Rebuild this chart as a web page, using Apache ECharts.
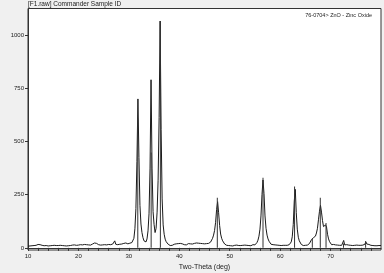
<!DOCTYPE html>
<html><head><meta charset="utf-8">
<script src="https://cdn.jsdelivr.net/npm/echarts@6/dist/echarts.min.js"></script>
<style>html,body{margin:0;padding:0;background:#f0f0f0;}#c{width:384px;height:273px;}</style>
</head><body><div id="c"></div>
<script>
// Scan: 2-theta from 10.0 to 80.0 in steps of 0.2 deg
const scanStart = 10.0;
const scanStep = 0.2;
const counts = [
 8,11,9,12,10, 13,11,15,12,14, 16,13,15,11,12, 14,10,13,11,12, 9,12,10,13,11,
 10,12,9,11,13, 11,9,12,10,11, 13,10,12,9,11, 10,12,11,9,13, 11,14,10,12,11,
 13,11,15,17,14, 20,16,19,15,18, 14,17,13,16,18, 20,23,18,21,16, 15,17,13,16,14,
 12,15,11,14,13, 16,13,15,12,18, 21,33,17,24,15, 13,17,11,18,14, 21,14,23,15,19,
 17,22,19,25,30, 45,90,185,405,700, 425,200,112,72,48, 33,24,28,42,80, 160,375,790,375,170,
 110,72,92,168,318, 612,1066,555,230,108, 64,41,29,22,17, 13,11,14,12,15, 17,14,19,16,20,
 18,21,16,19,17, 15,18,14,17,20, 16,19,15,18,17, 21,17,23,19,22, 18,21,17,20,23,
 19,22,20,24,21, 21,27,34,45,60, 82,120,180,217,165, 105,65,45,33,25, 18,14,12,15,11,
 13,10,12,9,11, 12,10,13,9,11, 14,11,16,12,15, 13,17,12,14,11, 13,10,12,15,13,
 14,18,25,36,55, 88,150,250,319,255, 150,92,60,42,31, 23,17,13,15,12, 14,11,13,10,12,
 13,11,14,12,10, 12,10,12,14,15, 19,28,52,110,220, 275,165,88,50,33, 24,16,13,11,14,
 12,15,13,17,20, 28,38,45,48,42, 55,70,92,132,172, 200,168,128,100,94, 108,98,64,42,29,
 20,15,13,16,12, 14,11,13,10,12, 15,12,18,35,14, 12,15,11,13,10, 12,14,11,13,12,
 10,13,11,12,14, 12,15,13,20,17, 28,18,14,16,13, 12,15,11,13,10, 12,10,13,11,12,
 11
];
// Reference pattern 76-0704 ZnO sticks
const stickPos = [31.77, 34.42, 36.25, 47.54, 56.60, 62.86, 66.38, 67.96, 69.10, 72.56, 76.95];
const stickHeight = [608, 448, 1066, 235, 330, 288, 43, 235, 117, 21, 32];
const yTicks = [0, 250, 500, 750, 1000];

const scanData = counts.map((c, i) => [+(scanStart + i * scanStep).toFixed(1), c]);
const stickData = stickPos.map((p, i) => [p, stickHeight[i]]);

const font = 'Liberation Sans, Arial, sans-serif';
const chart = echarts.init(document.getElementById('c'), null, {renderer: 'canvas'});
chart.setOption({
  animation: false,
  backgroundColor: '#f0f0f0',
  grid: {left: 28, right: 3, top: 8.5, bottom: 23, containLabel: false, outerBoundsMode: 'none',
    show: true, backgroundColor: '#ffffff', borderColor: '#333', borderWidth: 1},
  xAxis: {
    type: 'value', min: 10, max: 80, interval: 2,
    axisLine: {lineStyle: {color: '#333', width: 1}},
    axisTick: {show: true, length: 3, inside: false, lineStyle: {color: '#333'}},
    axisLabel: {fontSize: 6, color: '#222', fontFamily: font, margin: 3, showMaxLabel: false,
      formatter: v => (v % 10 === 0 && v < 80) ? String(v) : ''},
    splitLine: {show: false},
    name: 'Two-Theta (deg)', nameLocation: 'middle', nameGap: 13,
    nameTextStyle: {fontSize: 7, color: '#222', fontFamily: font}
  },
  yAxis: {
    type: 'value', min: -10, max: 1125,
    axisLine: {show: true, lineStyle: {color: '#333', width: 1}},
    axisTick: {show: true, length: 3, inside: false, customValues: yTicks, lineStyle: {color: '#333'}},
    axisLabel: {fontSize: 6, color: '#222', fontFamily: font, margin: 4, customValues: yTicks,
      formatter: v => String(v)},
    splitLine: {show: false},
    name: 'Intensity(Counts)', nameLocation: 'middle', nameGap: 19, nameRotate: 90,
    nameTextStyle: {fontSize: 7, color: '#222', fontFamily: font}
  },
  graphic: [
    {type: 'text', left: 28, top: 1, style: {text: '[F1.raw] Commander Sample ID', fontSize: 6.5, fill: '#222', fontFamily: font}},
    {type: 'text', right: 12, top: 12, style: {text: '76-0704> ZnO - Zinc Oxide', fontSize: 5.5, fill: '#222', fontFamily: font}}
  ],
  series: [
    {type: 'line', data: scanData, showSymbol: false, symbol: 'none',
     lineStyle: {color: '#1a1a1a', width: 1}, z: 2},
    {type: 'bar', data: stickData, barWidth: 1, itemStyle: {color: '#333'}, z: 3}
  ]
});
</script></body></html>
